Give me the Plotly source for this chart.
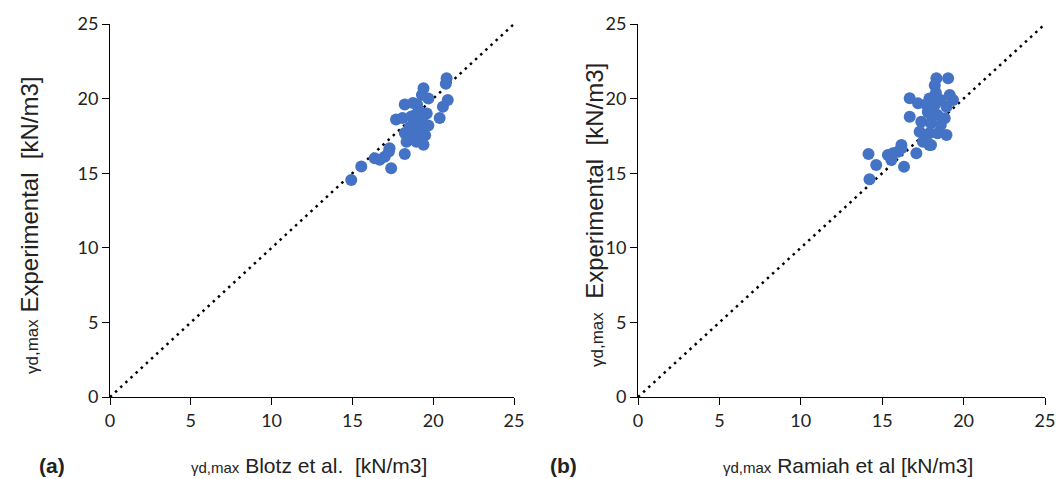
import plotly.graph_objects as go

# Panel (a): Blotz et al. predicted vs experimental
blotz_pred = [14.93, 15.55, 16.38, 16.69, 17.0, 17.26, 17.3, 17.4, 18.24, 18.34,
              20.83, 20.78, 20.9, 20.6, 20.4, 19.4, 19.3, 19.7, 18.24, 18.75,
              17.7, 18.1, 19.1, 19.6, 18.65, 18.55, 19.2, 19.7, 18.24, 18.86,
              19.5, 18.35, 18.96, 19.4, 18.9, 19.0, 18.6, 19.3, 18.8, 19.1]
blotz_exp = [14.55, 15.45, 16.0, 15.9, 16.1, 16.45, 16.67, 15.33, 16.29, 17.56,
             21.36, 21.0, 19.9, 19.45, 18.7, 20.7, 20.25, 20.0, 19.6, 19.7,
             18.6, 18.7, 19.2, 19.0, 18.8, 18.1, 18.35, 18.2, 17.7, 17.55,
             17.55, 17.1, 17.1, 16.9, 18.9, 19.6, 17.9, 18.6, 18.4, 17.9]

# Panel (b): Ramiah et al. predicted vs experimental
ramiah_pred = [14.22, 14.16, 14.63, 15.35, 15.66, 15.97, 16.18, 15.56, 16.34, 17.1,
               17.9, 18.33, 19.05, 18.23, 16.69, 17.2, 19.15, 19.35, 16.69, 18.95,
               18.84, 18.95, 17.9, 18.23, 17.8, 18.4, 17.4, 18.0, 18.6, 17.3,
               17.9, 18.4, 17.5, 18.0, 16.18, 18.1, 18.6, 17.7, 18.3, 18.0]
ramiah_exp = [14.59, 16.29, 15.55, 16.22, 16.33, 16.44, 16.67, 15.88, 15.44, 16.33,
              16.89, 21.36, 21.36, 20.9, 20.02, 19.68, 20.24, 19.9, 18.79, 19.46,
              18.68, 17.56, 20.0, 19.57, 19.1, 18.9, 18.45, 18.35, 18.23, 17.78,
              17.67, 17.67, 17.1, 16.89, 16.89, 19.3, 19.9, 19.6, 20.4, 18.9]

line_vals = [0, 25]
tick_vals = [0, 5, 10, 15, 20, 25]

BLUE = "#4472C4"
fig = go.Figure()

for pred, exp_, xa, ya in [(blotz_pred, blotz_exp, "x", "y"),
                           (ramiah_pred, ramiah_exp, "x2", "y2")]:
    fig.add_trace(go.Scatter(x=line_vals, y=line_vals, mode="lines",
                             line=dict(color="black", width=2.5, dash="2.5px,4.5px"),
                             xaxis=xa, yaxis=ya, showlegend=False, hoverinfo="skip"))
    fig.add_trace(go.Scatter(x=pred, y=exp_, mode="markers",
                             marker=dict(color=BLUE, size=12, line=dict(width=0)),
                             xaxis=xa, yaxis=ya, showlegend=False))

W, H = 1061, 479
ax_common = dict(range=[0, 25], tickvals=tick_vals, showgrid=False, zeroline=False,
                 showline=True, linecolor="black", linewidth=1, ticks="outside",
                 ticklen=7, tickcolor="black", automargin=False,
                 tickfont=dict(family="Lato, Open Sans, sans-serif", size=18, color="#222"))

y_dom = [(H - 397) / H, (H - 24) / H]
fig.update_layout(
    width=W, height=H, margin=dict(l=0, r=0, t=0, b=0, autoexpand=False),
    paper_bgcolor="white", plot_bgcolor="white",
    xaxis=dict(domain=[110 / W, 514 / W], anchor="y", **ax_common),
    yaxis=dict(domain=y_dom, anchor="x", **ax_common),
    xaxis2=dict(domain=[638 / W, 1045 / W], anchor="y2", **ax_common),
    yaxis2=dict(domain=y_dom, anchor="x2", **ax_common),
)

tfont = dict(family="Liberation Sans, Arial, sans-serif", size=21, color="#222")
yfont = dict(family="Liberation Sans, Arial, sans-serif", size=24, color="#222")
g = "<span style='font-size:15px'>γd,max</span>"
gy = "<span style='font-size:17px'>γd,max</span>"
ann = [
    dict(text=g + " Blotz et al. \u00a0[kN/m3]", x=309 / W, y=(H - 465) / H, font=tfont),
    dict(text=g + " Ramiah et al [kN/m3]", x=848 / W, y=(H - 465) / H, font=tfont),
    dict(text=gy + " Experimental \u00a0[kN/m3]", x=29 / W, y=(H - 225) / H,
         textangle=-90, font=yfont),
    dict(text=gy + " \u00a0Experimental \u00a0[kN/m3]", x=595 / W, y=(H - 215) / H,
         textangle=-90, font=yfont),
    dict(text="<b>(a)</b>", x=52 / W, y=(H - 465) / H, font=tfont),
    dict(text="<b>(b)</b>", x=563 / W, y=(H - 465) / H, font=tfont),
]
for a in ann:
    fig.add_annotation(xref="paper", yref="paper", showarrow=False,
                       xanchor="center", yanchor="middle", **a)

fig.write_html("out.html", config={"displayModeBar": False},
               post_script="document.body.style.margin='0px';document.body.style.overflow='hidden';")
